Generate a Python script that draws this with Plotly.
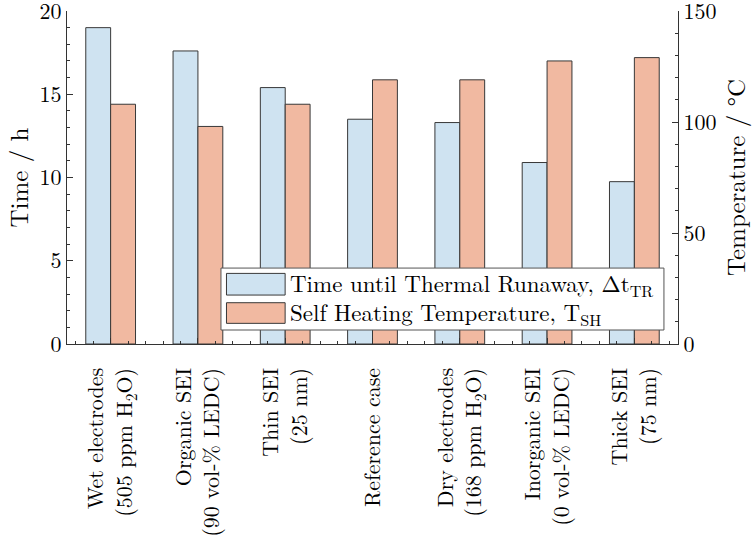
import plotly.graph_objects as go

categories = [
    "Wet electrodes<br>(505 ppm H<sub>2</sub>O)",
    "Organic SEI<br>(90 vol-% LEDC)",
    "Thin SEI<br>(25 nm)",
    "Reference case",
    "Dry electrodes<br>(168 ppm H<sub>2</sub>O)",
    "Inorganic SEI<br>(0 vol-% LEDC)",
    "Thick SEI<br>(75 nm)",
]
time_h = [19.0, 17.6, 15.4, 13.5, 13.3, 10.9, 9.75]
temp_c = [108, 98, 108, 119, 119, 127.5, 129]
positions = list(range(len(categories)))

name_time = "Time until Thermal Runaway, Δt<sub>TR</sub>"
name_temp = "Self Heating Temperature, T<sub>SH</sub>"

FONT = "Latin Modern Roman"
blue = "#cfe3f1"
salmon = "#f1b9a1"
edge = "#383838"
axc = "#333333"

fig = go.Figure()
fig.add_trace(go.Bar(x=positions, y=time_h, name=name_time, width=0.285, offset=-0.285,
                     marker=dict(color=blue, line=dict(color=edge, width=1)), yaxis="y"))
fig.add_trace(go.Bar(x=positions, y=temp_c, name=name_temp, width=0.285, offset=0.0,
                     marker=dict(color=salmon, line=dict(color=edge, width=1)), yaxis="y2"))

# legend drawn as box + swatches + text
fig.add_shape(type="rect", xref="paper", yref="paper", x0=0.252, x1=0.977, y0=0.042, y1=0.228,
              fillcolor="white", line=dict(color="#555555", width=1), layer="above")
fig.add_shape(type="rect", xref="paper", yref="paper", x0=0.261, x1=0.357, y0=0.147, y1=0.212,
              fillcolor=blue, line=dict(color=edge, width=1), layer="above")
fig.add_shape(type="rect", xref="paper", yref="paper", x0=0.261, x1=0.357, y0=0.062, y1=0.124,
              fillcolor=salmon, line=dict(color=edge, width=1), layer="above")
fig.add_annotation(xref="paper", yref="paper", x=0.362, y=0.180, text=name_time, showarrow=False,
                   xanchor="left", yanchor="middle", font=dict(family=FONT, size=23, color="black"))
fig.add_annotation(xref="paper", yref="paper", x=0.362, y=0.093, text=name_temp, showarrow=False,
                   xanchor="left", yanchor="middle", font=dict(family=FONT, size=23, color="black"))

fig.update_layout(
    width=756, height=544,
    margin=dict(l=67, r=78, t=11, b=200, autoexpand=False),
    plot_bgcolor="white", paper_bgcolor="white",
    showlegend=False,
    font=dict(family=FONT, size=22, color="black"),
    xaxis=dict(
        range=[-0.5, 6.5], tickmode="array", tickvals=positions, ticktext=categories,
        tickangle=-90, ticks="inside", ticklen=6, tickcolor=axc, automargin=False,
        showline=True, linecolor=axc, linewidth=1.2,
        minor=dict(dtick=0.2, tick0=0, ticks="inside", ticklen=3, tickcolor=axc),
        showgrid=False, zeroline=False, tickfont=dict(family=FONT, size=22), ticklabelstandoff=14,
        ticklabeloverflow="allow",
    ),
    xaxis2=dict(
        range=[-0.5, 6.5], overlaying="x", side="top", anchor="y",
        tickmode="array", tickvals=positions, showticklabels=False,
        ticks="inside", ticklen=6, tickcolor=axc, automargin=False,
        showline=True, linecolor=axc, linewidth=1.2,
        minor=dict(dtick=0.2, tick0=0, ticks="inside", ticklen=3, tickcolor=axc),
        showgrid=False, zeroline=False,
    ),
    yaxis=dict(
        range=[0, 20], dtick=5, ticks="inside", ticklen=6, tickcolor=axc, automargin=False,
        showline=True, linecolor=axc, linewidth=1.2,
        minor=dict(dtick=1, ticks="inside", ticklen=3, tickcolor=axc),
        showgrid=False, zeroline=False, tickfont=dict(family=FONT, size=22),
        ticklabeloverflow="allow",
        title=dict(text="Time / h", font=dict(family=FONT, size=25), standoff=14),
    ),
    yaxis2=dict(
        range=[0, 150], dtick=50, ticks="inside", ticklen=6, tickcolor=axc, automargin=False,
        overlaying="y", side="right",
        showline=True, linecolor=axc, linewidth=1.2,
        minor=dict(dtick=10, ticks="inside", ticklen=3, tickcolor=axc),
        showgrid=False, zeroline=False, tickfont=dict(family=FONT, size=22),
        ticklabeloverflow="allow",
        title=dict(text="Temperature / °C", font=dict(family=FONT, size=25), standoff=8),
    ),
)

fig.write_html("out.html", config={"displayModeBar": False},
               post_script="document.body.style.margin='0px';")
